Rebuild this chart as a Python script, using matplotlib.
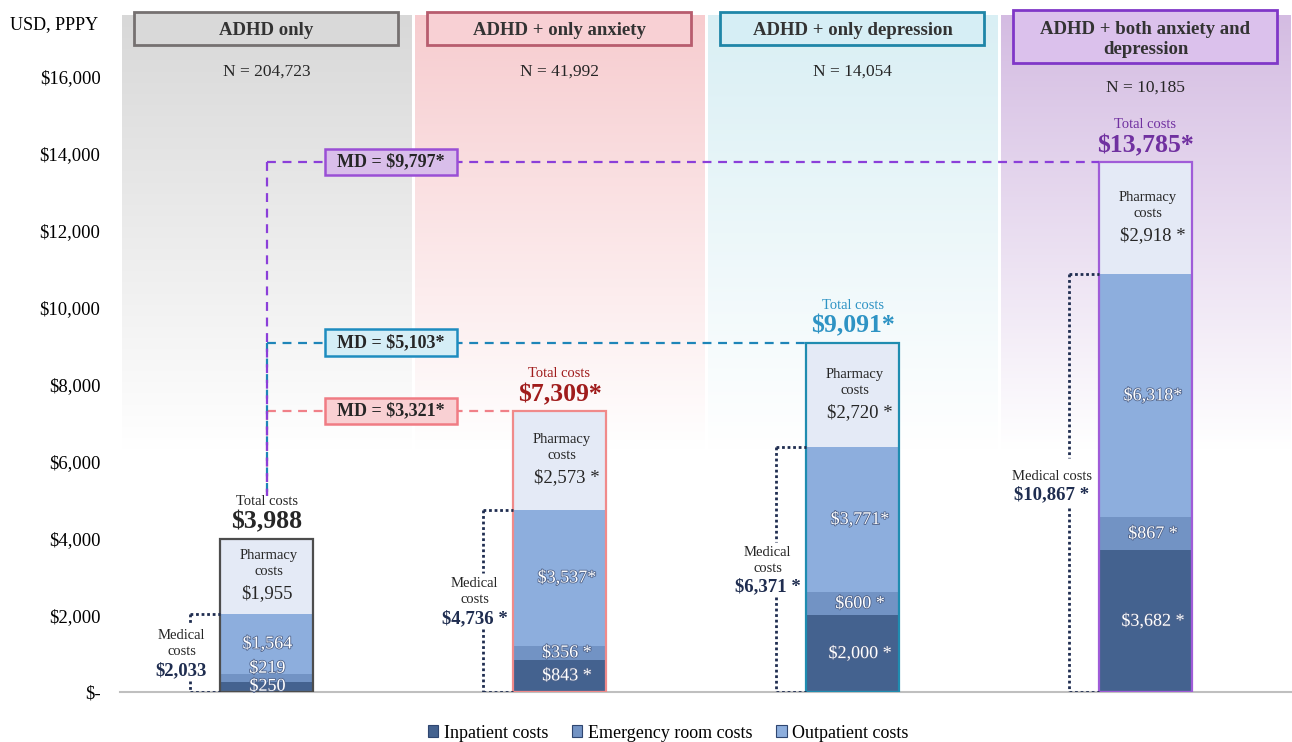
import numpy as np
import matplotlib
matplotlib.use('Agg')
from matplotlib import pyplot as plt
from matplotlib.patches import Rectangle, Patch
import matplotlib.patheffects as pe

plt.rcParams['font.family'] = ['Liberation Serif', 'DejaVu Serif']

# data
groups = ['ADHD only', 'ADHD + only anxiety', 'ADHD + only depression',
          'ADHD + both anxiety and\ndepression']
n_labels = ['N = 204,723', 'N = 41,992', 'N = 14,054', 'N = 10,185']
inpatient = [250, 843, 2000, 3682]
emergency = [219, 356, 600, 867]
outpatient = [1564, 3537, 3771, 6318]
pharmacy = [1955, 2573, 2720, 2918]
medical = [2033, 4736, 6371, 10867]
totals = [3988, 7309, 9091, 13785]
sig = ['', '*', '*', '*']
med_labels = ['Medical\ncosts', 'Medical\ncosts', 'Medical\ncosts', 'Medical costs']
yticks = [0, 2000, 4000, 6000, 8000, 10000, 12000, 14000, 16000]
ytick_labels = ['$-', '$2,000', '$4,000', '$6,000', '$8,000', '$10,000',
                '$12,000', '$14,000', '$16,000']

# styles
seg_colors = ['#44628F', '#7293C4', '#8DAEDD', '#E4EAF6']
panel_top = ['#D8D8D8', '#F7CCCF', '#D9EFF4', '#D4BCE2']
head_fill = ['#D9D9D9', '#F8D0D4', '#D6EEF5', '#DBC1EC']
head_edge = ['#767171', '#B85C6E', '#1F86A8', '#8037C8']
bar_edge = ['#4D4D4D', '#F08A8A', '#1F8CB0', '#A05CD8']
total_col = ['#262626', '#A01C1C', '#2E93C4', '#7030A0']
md_fill = [None, '#F9D0D3', '#D5EEF6', '#D9BEEA']
md_edge = [None, '#F07C84', '#1E8CBF', '#9A4FD5']
md_line = [None, '#F08088', '#1E85B8', '#8B3FD9']
navy = '#1F2D50'

YMAX = 17612
W = 0.32

fig = plt.figure(figsize=(12.92, 7.42), dpi=100)
ax = fig.add_axes([120 / 1292, 50 / 742, 1172 / 1292, 677 / 742])

x = np.arange(4) + 0.5

# gradient panels
ys = np.linspace(0, 1, 200)
for i in range(4):
    c = np.array(matplotlib.colors.to_rgb(panel_top[i]))
    t = ys[:, None]
    arr = (1 - t) * np.ones(3) + t * c
    arr = arr[:, None, :]
    ax.imshow(arr, extent=[i + 0.006, i + 0.994, 6300, YMAX], aspect='auto',
              origin='lower', zorder=0, interpolation='bilinear')

# stacked bars
bottom = np.zeros(4)
stack = [inpatient, emergency, outpatient, pharmacy]
for vals, col in zip(stack, seg_colors):
    ax.bar(x, vals, W, bottom=bottom, color=col, edgecolor='none', zorder=2)
    bottom += np.array(vals)
for i in range(4):
    ax.add_patch(Rectangle((x[i] - W / 2, 0), W, totals[i], fill=False,
                           edgecolor=bar_edge[i], lw=1.6, zorder=3))

# labels inside bars
stroke = [pe.withStroke(linewidth=1.2, foreground='#50648C')]
for i in range(4):
    dx = 0.025 if sig[i] else 0.003
    b = 0
    for k, vals in enumerate(stack[:3]):
        v = vals[i]
        yc = b + v / 2
        if i == 0 and k == 1:
            yc = b + v / 2 + 260
        if i == 0 and k == 0:
            yc = 150
        star = '' if not sig[i] else ('*' if k == 2 else ' *')
        ax.text(x[i] + dx, yc, f'${v:,}{star}', ha='center', va='center',
                color='white', fontsize=13, zorder=5, path_effects=stroke)
        b += v
    pc = medical[i] + pharmacy[i] / 2
    ax.annotate('Pharmacy\ncosts', (x[i] + 0.008, pc), xytext=(0, 9),
                textcoords='offset points', ha='center', va='center',
                fontsize=10.5, color='#262626', linespacing=1.3, zorder=5)
    star = ' *' if sig[i] else ''
    ax.annotate(f'${pharmacy[i]:,}{star}', (x[i] + dx, pc), xytext=(0, -12.5),
                textcoords='offset points', ha='center', va='center',
                fontsize=13.5, color='#262626', zorder=5)
    # totals
    ax.annotate('Total costs', (x[i], totals[i]), xytext=(0, 27),
                textcoords='offset points', ha='center', va='center',
                fontsize=10.5, color=total_col[i], zorder=5)
    ax.annotate(f'${totals[i]:,}{sig[i]}', (x[i], totals[i]), xytext=(0, 12),
                textcoords='offset points', ha='center', va='center',
                fontsize=18.5, fontweight='bold', color=total_col[i], zorder=5)

# medical cost brackets
for i in range(4):
    xv = x[i] - 0.26
    xl = x[i] - W / 2
    yc = medical[i] / 2
    half = 720 if i < 3 else 650
    kw = dict(color=navy, lw=2, ls=(0, (1, 1)), zorder=4)
    ax.plot([xv, xl], [medical[i], medical[i]], **kw)
    ax.plot([xv, xv], [medical[i], yc + half], **kw)
    ax.plot([xv, xv], [yc - half, 0], **kw)
    ax.plot([xv, xl], [0, 0], **kw)
    star = ' *' if sig[i] else ''
    if i < 3:
        ax.annotate(med_labels[i], (xv - 0.03, yc), xytext=(0, 6.5),
                    textcoords='offset points', ha='center', va='center',
                    fontsize=10.5, color='#262626', linespacing=1.3, zorder=5)
        ax.annotate(f'${medical[i]:,}{star}', (xv - 0.03, yc),
                    xytext=(0, -12.5), textcoords='offset points', ha='center',
                    va='center', fontsize=13.5, fontweight='bold', color=navy, zorder=5)
    else:
        ax.annotate(med_labels[i], (xv - 0.06, yc), xytext=(0, 5),
                    textcoords='offset points', ha='center', va='center',
                    fontsize=10.5, color='#262626', zorder=5)
        ax.annotate(f'${medical[i]:,}{star}', (xv - 0.06, yc), xytext=(0, -8),
                    textcoords='offset points', ha='center', va='center',
                    fontsize=13.5, fontweight='bold', color=navy, zorder=5)

# mean difference lines
for i in [1, 2, 3]:
    md = totals[i] - totals[0]
    kw = dict(color=md_line[i], lw=1.6, ls=(0, (4, 3)), zorder=3)
    ax.plot([x[0], x[i] - W / 2], [totals[i], totals[i]], **kw)
    ax.plot([x[0], x[0]], [totals[i], totals[0] + 1100], **kw)
    ax.add_patch(Rectangle((0.925 - 0.225, totals[i] - 340), 0.45, 680,
                           fc=md_fill[i], ec=md_edge[i], lw=1.8, zorder=6))
    ax.text(0.925, totals[i], f'MD = ${md:,}*', ha='center', va='center',
            fontsize=13, fontweight='bold', color='#262626', zorder=7)

# headers
for i in range(4):
    if i < 3:
        y0, y1, ty, ny = 16832, 17690, 17200, 16130
    else:
        y0, y1, ty, ny = 16360, 17740, 16980, 15710
    ax.add_patch(Rectangle((i + 0.047, y0), 0.903, y1 - y0, fc=head_fill[i],
                           ec=head_edge[i], lw=2, clip_on=False, zorder=6))
    ax.text(x[i], ty, groups[i], ha='center', va='center', fontsize=13.5,
            fontweight='bold', color='#333333', zorder=7, linespacing=1.25)
    ax.text(x[i], ny, n_labels[i], ha='center', va='center', fontsize=12.5,
            color='#262626', zorder=7)

ax.set_xlim(0, 4)
ax.set_ylim(0, YMAX)
ax.set_xticks([])
ax.set_yticks(yticks)
ax.set_yticklabels(ytick_labels, fontsize=13.5)
ax.tick_params(axis='y', length=0, pad=14)
for s in ['top', 'right', 'left']:
    ax.spines[s].set_visible(False)
ax.spines['bottom'].set_color('#BFBFBF')
ax.spines['bottom'].set_linewidth(1.5)

fig.text(10 / 1292, 1 - 25 / 742, 'USD, PPPY', ha='left', va='center', fontsize=13)

handles = [Patch(fc=seg_colors[k], ec='#2F4670', lw=0.8) for k in range(3)]
fig.legend(handles, ['Inpatient costs', 'Emergency room costs', 'Outpatient costs'],
           loc='center', bbox_to_anchor=(668 / 1292, 9 / 742), ncol=3, frameon=False,
           fontsize=13, handlelength=0.6, handleheight=0.6, handletextpad=0.3,
           columnspacing=1.3)

fig.savefig('out.png', dpi=100)
